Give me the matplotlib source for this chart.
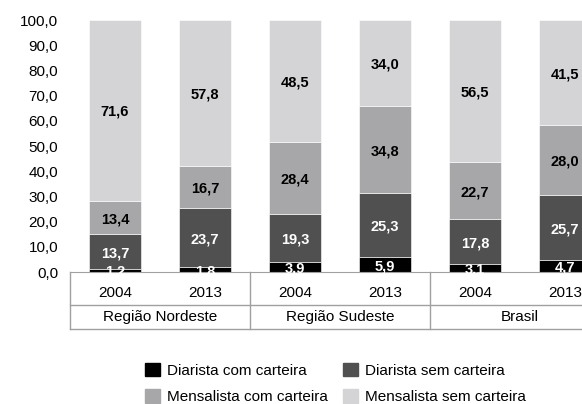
import numpy as np
import matplotlib.pyplot as plt
from matplotlib.patches import Patch

plt.rcParams['font.family'] = ['Liberation Sans', 'DejaVu Sans']

# Data
years = ["2004", "2013", "2004", "2013", "2004", "2013"]
groups = ["Região Nordeste", "Região Sudeste", "Brasil"]
series = ["Diarista com carteira", "Diarista sem carteira",
          "Mensalista com carteira", "Mensalista sem carteira"]
diarista_com = [1.2, 1.8, 3.9, 5.9, 3.1, 4.7]
diarista_sem = [13.7, 23.7, 19.3, 25.3, 17.8, 25.7]
mensalista_com = [13.4, 16.7, 28.4, 34.8, 22.7, 28.0]
mensalista_sem = [71.6, 57.8, 48.5, 34.0, 56.5, 41.5]

colors = ["#000000", "#505050", "#a7a7a9", "#d4d4d6"]
label_colors = ["white", "white", "black", "black"]

fig = plt.figure(figsize=(5.82, 4.04), dpi=100)
ax = fig.add_axes([70 / 582, 132 / 404, 540 / 582, 252 / 404])

x = np.arange(len(years))
bottom = np.zeros(len(years))
for vals, col, lc in zip([diarista_com, diarista_sem, mensalista_com, mensalista_sem],
                         colors, label_colors):
    vals = np.array(vals)
    ax.bar(x, vals, bottom=bottom, width=52 / 90, color=col,
           edgecolor="white", linewidth=0.4)
    for xi, b, v in zip(x, bottom, vals):
        ax.text(xi, b + v / 2 - 0.6, f"{v:.1f}".replace(".", ","),
                ha="center", va="center", color=lc,
                fontsize=10.5, fontweight="bold")
    bottom += vals

ax.set_xlim(-0.5, 5.5)
ax.set_ylim(0, 100)
ax.set_yticks(np.arange(0, 101, 10))
ax.set_yticklabels([f"{v:.1f}".replace(".", ",") for v in np.arange(0, 101, 10)])
ax.tick_params(axis="y", length=0, pad=8.5, labelsize=11)
ax.set_xticks([])
for s in ["left", "right", "top"]:
    ax.spines[s].set_visible(False)
ax.spines["bottom"].set_color("#a0a0a0")

# table below the axis
tr = ax.get_xaxis_transform()
lc_tab = "#a0a0a0"
for yy in [-33 / 252, -57 / 252]:
    ax.plot([-0.5, 5.5], [yy, yy], transform=tr, color=lc_tab, lw=1, clip_on=False)
for xx in [-0.5, 1.5, 3.5, 5.5]:
    ax.plot([xx, xx], [0, -57 / 252], transform=tr, color=lc_tab, lw=1, clip_on=False)
for xi, yr in zip(x, years):
    ax.text(xi, -21 / 252, yr, transform=tr, ha="center", va="center", fontsize=11)
for gi, g in enumerate(groups):
    ax.text(2 * gi + 0.5, -45 / 252, g, transform=tr, ha="center", va="center", fontsize=11)

handles = [Patch(color=c) for c in colors]
order = [0, 2, 1, 3]
fig.legend([handles[i] for i in order], [series[i] for i in order],
           loc="upper left", bbox_to_anchor=(137 / 582, 1 - 355 / 404), ncol=2,
           frameon=False, fontsize=11, handlelength=1.0, handleheight=1.0,
           handletextpad=0.45, columnspacing=1.0, labelspacing=0.75, borderpad=0)

fig.savefig("out.png", dpi=100)
